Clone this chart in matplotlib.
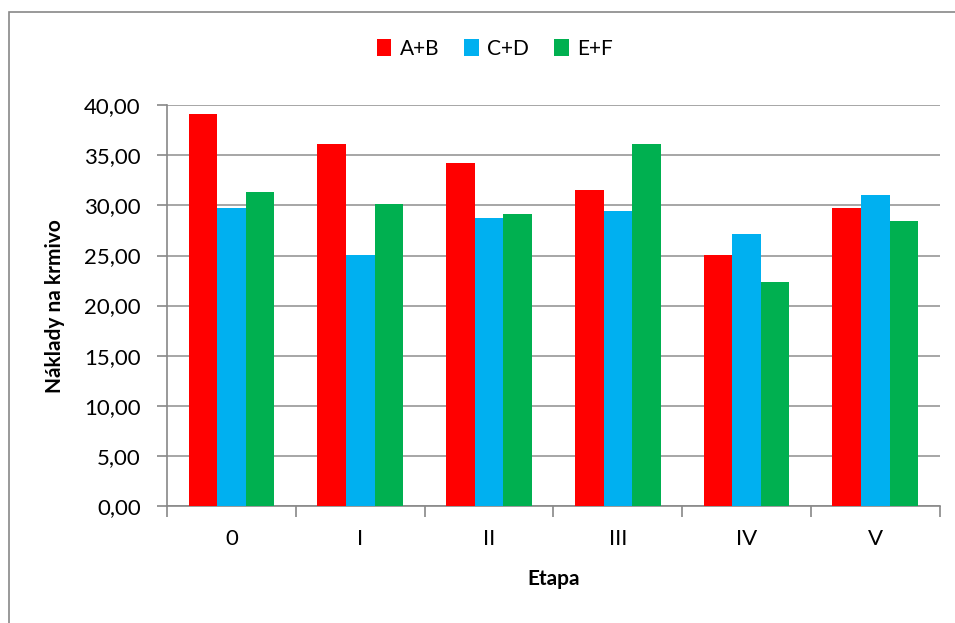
import numpy as np
from matplotlib import pyplot as plt
from matplotlib.patches import Rectangle

plt.rcParams['font.family'] = ['Lato', 'DejaVu Sans']

etapy = ['0', 'I', 'II', 'III', 'IV', 'V']
serie = ['A+B', 'C+D', 'E+F']
ab = [39.15, 36.16, 34.27, 31.58, 25.06, 29.78]
cd = [29.78, 25.02, 28.74, 29.41, 27.12, 31.08]
ef = [31.34, 30.18, 29.14, 36.16, 22.36, 28.48]
barvy = ['#FF0000', '#00B0F0', '#00B050']


def main():
    fig = plt.figure(figsize=(9.55, 6.23), dpi=100)
    ax = fig.add_axes([0.175, 0.188, 0.809, 0.643])

    # outer chart frame, only left and top edges are visible in the image
    fig.patches.append(Rectangle((0.009, -0.2), 1.2, 1.181, transform=fig.transFigure,
                                 fill=False, edgecolor='#888888', lw=1.2))

    x = np.arange(len(etapy))
    w = 0.222
    for i, (vals, name) in enumerate(zip([ab, cd, ef], serie)):
        ax.bar(x + (i - 1) * w, vals, width=w, color=barvy[i], label=name, zorder=3)

    ax.set_xlim(-0.5, len(etapy) - 0.5)
    ax.set_ylim(0, 40)
    ax.set_yticks(np.arange(0, 41, 5))
    ax.set_yticklabels([f'{v:.2f}'.replace('.', ',') for v in np.arange(0, 41, 5)], fontsize=16)
    ax.set_xticks(x)
    ax.set_xticklabels(etapy, fontsize=16)
    ax.set_xticks(np.arange(-0.5, len(etapy), 1), minor=True)
    ax.tick_params(axis='x', which='major', length=0, pad=17)
    ax.tick_params(axis='x', which='minor', length=8, color='#888888', width=1.2)
    ax.tick_params(axis='y', length=7, color='#888888', width=1.2, pad=12)

    ax.grid(True, axis='y', color='#a6a6a6', lw=1.4, zorder=0)
    for s in ['top', 'right']:
        ax.spines[s].set_visible(False)
    ax.spines['left'].set_color('#888888')
    ax.spines['bottom'].set_color('#888888')
    ax.spines['left'].set_linewidth(1.2)
    ax.spines['bottom'].set_linewidth(1.2)

    ax.set_ylabel('Náklady na krmivo', fontsize=15, fontweight='bold', labelpad=14)
    ax.set_xlabel('Etapa', fontsize=15, fontweight='bold', labelpad=14)

    fig.legend(loc='center', bbox_to_anchor=(0.518, 0.922), ncol=3, frameon=False, fontsize=15,
               handlelength=0.7, handleheight=0.9, handletextpad=0.4, columnspacing=1.2)

    fig.savefig('out.png', dpi=100)
    plt.close(fig)


if __name__ == '__main__':
    main()
